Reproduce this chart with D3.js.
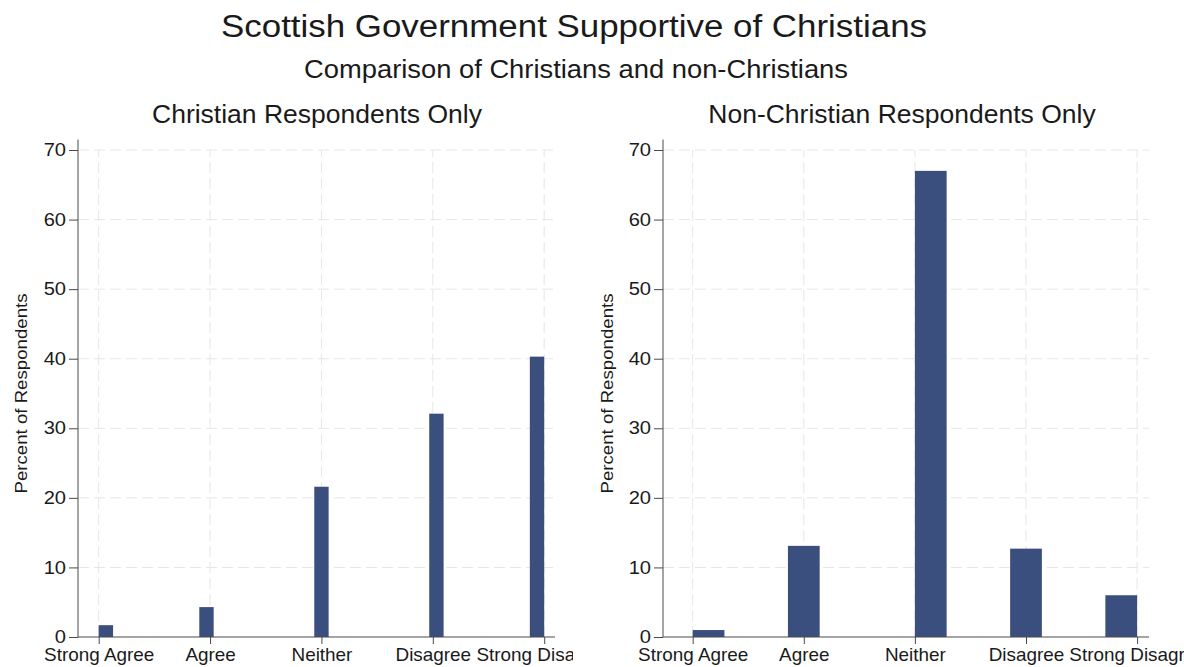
<!DOCTYPE html>
<html>
<head>
<meta charset="utf-8">
<script src="https://cdn.jsdelivr.net/npm/d3@7"></script>
<style>
  html, body { margin: 0; padding: 0; background: #fff; }
  svg { display: block; font-family: "Liberation Sans", Arial, Helvetica, sans-serif; }
</style>
</head>
<body>
<svg id="chart" width="1184" height="667"></svg>
<script>
// ---- data ----
const categories = ["Strong Agree", "Agree", "Neither", "Disagree", "Strong Disagree"];
const categoryValues = [1, 2, 3, 4, 5];
const christianPct = [1.7, 4.3, 21.6, 32.1, 40.3];
const nonChristianPct = [1.0, 13.1, 67.0, 12.7, 6.0];
const christianBins = 31;      // histogram bin count
const nonChristianBins = 14;
const yTicks = [0, 10, 20, 30, 40, 50, 60, 70];
const titleText = "Scottish Government Supportive of Christians";
const subtitleText = "Comparison of Christians and non-Christians";
const panelTitles = ["Christian Respondents Only", "Non-Christian Respondents Only"];
const yAxisTitle = "Percent of Respondents";

// ---- layout ----
const W = 1184, H = 667;
const svg = d3.select("#chart");
const barColor = "#3b4f7f";
const axisColor = "#4a4a4a";
const gridColor = "#e6e6e6";
const textColor = "#1a1a1a";

svg.append("text").attr("x", 574).attr("y", 37).attr("text-anchor", "middle")
  .attr("font-size", 31).attr("fill", textColor)
  .attr("textLength", 706).attr("lengthAdjust", "spacingAndGlyphs").text(titleText);
svg.append("text").attr("x", 576).attr("y", 78).attr("text-anchor", "middle")
  .attr("font-size", 25).attr("fill", textColor)
  .attr("textLength", 544).attr("lengthAdjust", "spacingAndGlyphs").text(subtitleText);

const panels = [
  { title: panelTitles[0], values: christianPct, bins: christianBins, titleX: 317,
    axisX: 78, plotRight: 555, tick1: 98.7, tick5: 544.2, clipL: 0, clipR: 573, yTitleX: 27 },
  { title: panelTitles[1], values: nonChristianPct, bins: nonChristianBins, titleX: 902,
    axisX: 663, plotRight: 1149, tick1: 692.7, tick5: 1137.1, clipL: 586, clipR: 1184, yTitleX: 613 }
];

const yTop = 150, yBottom = 637;
const xLabelScale = 1.08, yLabelScale = 1.15;

panels.forEach((p, pi) => {
  const clipId = "clip" + pi;
  svg.append("clipPath").attr("id", clipId).append("rect")
    .attr("x", p.clipL).attr("y", 0).attr("width", p.clipR - p.clipL).attr("height", H);
  const g = svg.append("g").attr("clip-path", `url(#${clipId})`);

  const x = d3.scaleLinear().domain([1, 5]).range([p.tick1, p.tick5]);
  const y = d3.scaleLinear().domain([0, 70]).range([yBottom, yTop]);

  // panel title
  g.append("text").attr("x", p.titleX).attr("y", 123)
    .attr("text-anchor", "middle").attr("font-size", 26.5).attr("fill", textColor).text(p.title);

  // gridlines
  g.append("g").selectAll("line").data(yTicks.filter(t => t > 0)).join("line")
    .attr("x1", p.axisX).attr("x2", p.plotRight)
    .attr("y1", d => y(d)).attr("y2", d => y(d))
    .attr("stroke", gridColor).attr("stroke-width", 1).attr("stroke-dasharray", "11,5");
  g.append("g").selectAll("line").data(categoryValues).join("line")
    .attr("x1", d => x(d)).attr("x2", d => x(d))
    .attr("y1", y(0)).attr("y2", y(70))
    .attr("stroke", gridColor).attr("stroke-width", 1).attr("stroke-dasharray", "11,5");

  // histogram bars
  const w = (5 - 1) / p.bins;
  const bars = categoryValues.map((v, i) => {
    const b = Math.min(Math.floor((v - 1) / w + 1e-9), p.bins - 1);
    return { x0: 1 + b * w, x1: 1 + (b + 1) * w, v: p.values[i] };
  });
  g.append("g").selectAll("rect").data(bars).join("rect")
    .attr("x", d => x(d.x0)).attr("width", d => x(d.x1) - x(d.x0))
    .attr("y", d => y(d.v)).attr("height", d => y(0) - y(d.v))
    .attr("fill", barColor);

  // y axis
  const yTickSize = 9, yPad = 3;
  const yAxis = d3.axisLeft(y).tickValues(yTicks).tickSize(yTickSize).tickPadding(yPad);
  const ya = g.append("g").attr("transform", `translate(${p.axisX},0)`).call(yAxis);
  ya.select(".domain").attr("stroke", axisColor).attr("d", `M0,${y(0)}V${y(71.5)}`);
  ya.selectAll(".tick line").attr("stroke", axisColor);
  ya.selectAll(".tick text").attr("font-size", 17.5).attr("fill", textColor)
    .attr("font-family", "Liberation Sans, Arial, sans-serif")
    .attr("x", -(yTickSize + yPad) / yLabelScale)
    .attr("transform", `scale(${yLabelScale},1)`);

  // x axis
  const xAxis = d3.axisBottom(x).tickValues(categoryValues)
    .tickFormat((d, i) => categories[i]).tickSize(7).tickPadding(5);
  const xa = g.append("g").attr("transform", `translate(0,${yBottom})`).call(xAxis);
  xa.select(".domain").attr("stroke", axisColor).attr("d", `M${p.axisX},0H${p.plotRight}`);
  xa.selectAll(".tick line").attr("stroke", axisColor);
  xa.selectAll(".tick text").attr("font-size", 17.5).attr("fill", textColor)
    .attr("font-family", "Liberation Sans, Arial, sans-serif")
    .attr("transform", `scale(${xLabelScale},1)`);

  // y axis title
  g.append("text").attr("transform", `translate(${p.yTitleX},${(yTop + yBottom) / 2 + 0}) rotate(-90)`)
    .attr("text-anchor", "middle").attr("font-size", 16.5).attr("fill", textColor)
    .attr("textLength", 200).attr("lengthAdjust", "spacingAndGlyphs").text(yAxisTitle);
});
</script>
</body>
</html>
